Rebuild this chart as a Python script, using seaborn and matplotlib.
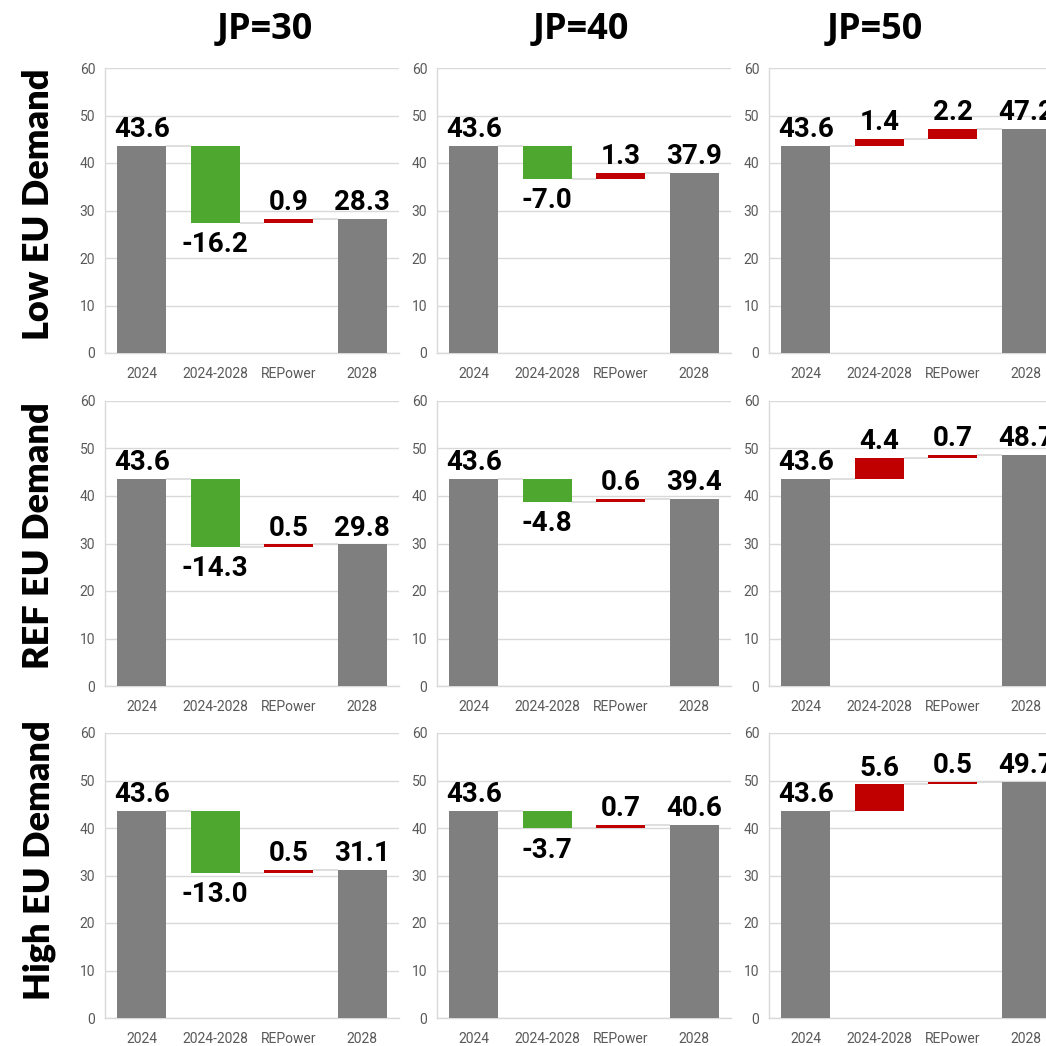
import numpy as np
import pandas as pd
import matplotlib
matplotlib.use("Agg")
import matplotlib.pyplot as plt
import seaborn as sns

# ---------------- data ----------------
categories = ["2024", "2024-2028", "REPower", "2028"]
jp_levels = ["JP=30", "JP=40", "JP=50"]
demand_scenarios = ["Low EU Demand", "REF EU Demand", "High EU Demand"]
start_2024 = 43.6
change_2024_2028 = [[-16.2, -7.0, 1.4],
                    [-14.3, -4.8, 4.4],
                    [-13.0, -3.7, 5.6]]
change_repower = [[0.9, 1.3, 2.2],
                  [0.5, 0.6, 0.7],
                  [0.5, 0.7, 0.5]]
total_2028 = [[28.3, 37.9, 47.2],
              [29.8, 39.4, 48.7],
              [31.1, 40.6, 49.7]]
y_ticks = [0, 10, 20, 30, 40, 50, 60]

# ---------------- style ----------------
sns.set_theme(style="white")
plt.rcParams["font.family"] = ["Roboto", "DejaVu Sans"]

GRAY = "#7f7f7f"
GREEN = "#4ea72e"
RED = "#c00000"
GRID = "#d9d9d9"
TICK = "#595959"

W, H = 1046, 1046
fig = plt.figure(figsize=(W / 100, H / 100), dpi=100)

col_left_px = [105, 437, 769]
row_top_px = [68, 401, 733]
ax_w_px, ax_h_px = 294, 285
bar_w = 0.66

for r in range(3):
    for c in range(3):
        l = col_left_px[c] / W
        b = 1 - (row_top_px[r] + ax_h_px) / H
        ax = fig.add_axes([l, b, ax_w_px / W, ax_h_px / H])

        d1 = change_2024_2028[r][c]
        d2 = change_repower[r][c]
        end = total_2028[r][c]
        mid = start_2024 + d1
        after = mid + d2
        heights = [start_2024, abs(d1), abs(d2), end]
        bottoms = [0, min(start_2024, mid), min(mid, after), 0]
        colors = [GRAY, GREEN if d1 < 0 else RED, GREEN if d2 < 0 else RED, GRAY]

        df = pd.DataFrame({"cat": categories, "h": heights})
        sns.barplot(data=df, x="cat", y="h", order=categories, bottom=bottoms,
                    color=GRAY, saturation=1, width=bar_w, errorbar=None,
                    linewidth=0, ax=ax, zorder=3)
        for p, col in zip(ax.patches, colors):
            p.set_facecolor(col)
            p.set_edgecolor("none")

        # connectors
        levels = [start_2024, mid, after]
        for i, lev in enumerate(levels):
            ax.plot([i + bar_w / 2, i + 1 - bar_w / 2], [lev, lev],
                    color=GRID, lw=1.2, zorder=2, solid_capstyle="butt")

        # labels
        lab_kw = dict(ha="center", fontsize=20, fontweight="bold",
                      color="black", textcoords="offset points", zorder=5,
                      annotation_clip=False)
        ax.annotate(f"{start_2024:.1f}", (0, start_2024), xytext=(0, 2),
                    va="bottom", **lab_kw)
        if d1 < 0:
            ax.annotate(f"{d1:.1f}", (1, mid), xytext=(0, -6), va="top", **lab_kw)
        else:
            ax.annotate(f"{d1:.1f}", (1, mid), xytext=(0, 2), va="bottom", **lab_kw)
        if d2 < 0:
            ax.annotate(f"{d2:.1f}", (2, after), xytext=(0, -6), va="top", **lab_kw)
        else:
            ax.annotate(f"{d2:.1f}", (2, after), xytext=(0, 2), va="bottom", **lab_kw)
        ax.annotate(f"{end:.1f}", (3, end), xytext=(0, 2), va="bottom", **lab_kw)

        ax.set_xlim(-0.5, 3.5)
        ax.set_ylim(0, 60)
        ax.set_yticks(y_ticks)
        ax.yaxis.grid(True, color=GRID, lw=1)
        ax.xaxis.grid(False)
        ax.set_axisbelow(True)
        for s in ["top", "right"]:
            ax.spines[s].set_visible(False)
        for s in ["left", "bottom"]:
            ax.spines[s].set_color(GRID)
            ax.spines[s].set_linewidth(1)
        ax.tick_params(axis="both", length=0, labelsize=10, labelcolor=TICK)
        ax.tick_params(axis="y", pad=7)
        ax.tick_params(axis="x", pad=10)
        ax.set_xlabel("")
        ax.set_ylabel("")

# column titles
title_x_px = [265, 581, 875]
for c, t in enumerate(jp_levels):
    fig.text(title_x_px[c] / W, 1 - 30 / H, t, ha="center", va="center",
             fontsize=26, fontweight="bold", color="black",
             family=["Open Sans", "DejaVu Sans"])

# row labels
row_y_px = [204, 536, 860]
for r, t in enumerate(demand_scenarios):
    fig.text(39 / W, 1 - row_y_px[r] / H, t, ha="center", va="center",
             rotation=90, fontsize=26, fontweight="heavy", color="black",
             family=["Lato", "DejaVu Sans"])

fig.savefig("out.png", dpi=100, facecolor="white")
